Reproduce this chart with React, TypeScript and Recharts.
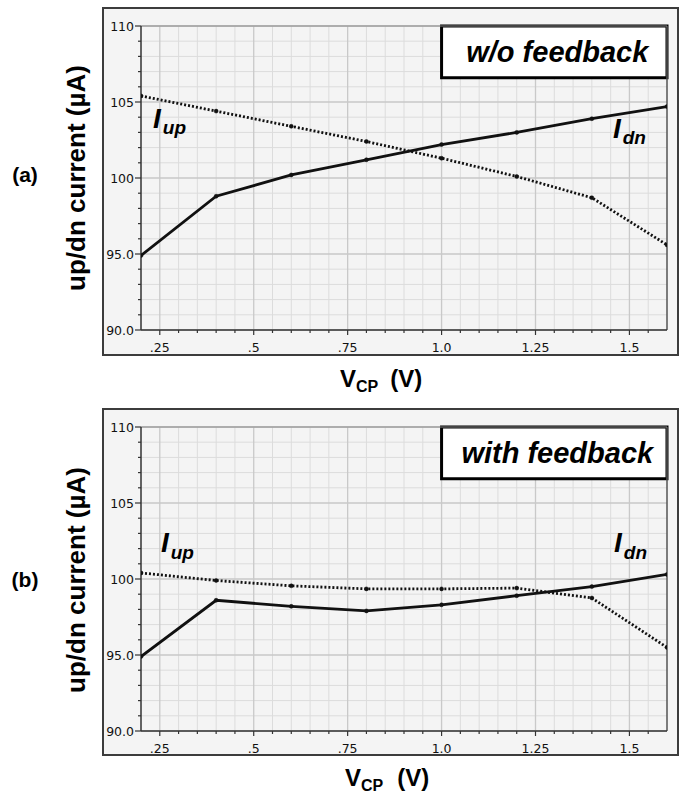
import React from "react";
import {
  LineChart,
  Line,
  XAxis,
  YAxis,
  CartesianGrid,
  ReferenceArea,
  ReferenceLine,
  ReferenceDot,
} from "recharts";

// V_CP sweep points (V)
const vcp = [0.2, 0.4, 0.6, 0.8, 1.0, 1.2, 1.4, 1.6];

// (a) without feedback, µA
const idnNoFeedback = [94.9, 98.8, 100.2, 101.2, 102.2, 103.0, 103.9, 104.7];
const iupNoFeedback = [105.4, 104.4, 103.4, 102.4, 101.3, 100.1, 98.7, 95.6];

// (b) with feedback, µA
const idnFeedback = [94.9, 98.6, 98.2, 97.9, 98.3, 98.9, 99.5, 100.3];
const iupFeedback = [100.4, 99.9, 99.55, 99.35, 99.35, 99.4, 98.75, 95.5];

// axis ticks
const majorX = [0.25, 0.5, 0.75, 1.0, 1.25, 1.5];
const majorXLabels = [".25", ".5", ".75", "1.0", "1.25", "1.5"];
const minorX = [
  0.3, 0.35, 0.4, 0.45, 0.55, 0.6, 0.65, 0.7, 0.8, 0.85, 0.9, 0.95, 1.05,
  1.1, 1.15, 1.2, 1.3, 1.35, 1.4, 1.45, 1.55,
];
const majorY = [90, 95, 100, 105, 110];
const majorYLabels = ["90.0", "95.0", "100", "105", "110"];
const minorY = [91, 92, 93, 94, 96, 97, 98, 99, 101, 102, 103, 104, 106, 107, 108, 109];

const SANS = "'Liberation Sans', Arial, Helvetica, sans-serif";
const TICK_FONT = "'DejaVu Sans', Verdana, sans-serif";

const XTick = (props: any) => {
  const { x, y, payload } = props;
  const i = majorX.indexOf(payload.value);
  const major = i >= 0;
  return (
    <g>
      <line x1={x} x2={x} y1={y} y2={y + (major ? 5 : 3)} stroke="#333" strokeWidth={1.2} />
      {major && (
        <text x={x} y={y + 22} textAnchor="middle" fontFamily={TICK_FONT} fontSize={12.5} fill="#111">
          {majorXLabels[i]}
        </text>
      )}
    </g>
  );
};

const YTick = (props: any) => {
  const { x, y, payload } = props;
  const i = majorY.indexOf(payload.value);
  const major = i >= 0;
  return (
    <g>
      <line x1={x - (major ? 6 : 3)} x2={x} y1={y} y2={y} stroke="#333" strokeWidth={1.2} />
      {major && (
        <text x={x - 7} y={y + 4.5} textAnchor="end" fontFamily={TICK_FONT} fontSize={12.5} fill="#111">
          {majorYLabels[i]}
        </text>
      )}
    </g>
  );
};

const CurrentLabel = ({ cx, cy, sub, shift }: any) => (
  <text x={cx} y={cy} fontFamily={SANS} fontWeight="bold" fontStyle="italic" fill="#000">
    <tspan fontSize={28}>I</tspan>
    <tspan fontSize={19} dx={2} dy={shift}>
      {sub}
    </tspan>
  </text>
);

interface PanelProps {
  top: number;
  height: number;
  idn: number[];
  iup: number[];
  boxText: string;
  upAt: [number, number];
  dnAt: [number, number];
  subShift: number;
}

function Panel({ top, height, idn, iup, boxText, upAt, dnAt, subShift }: PanelProps) {
  const chartData = vcp.map((v, i) => ({ v, idn: idn[i], iup: iup[i] }));
  return (
    <div style={{ position: "absolute", left: 0, top }}>
      <LineChart
        width={686}
        height={height}
        data={chartData}
        margin={{ top: 26, right: 19, bottom: height - 360, left: 91 }}
      >
        <CartesianGrid
          horizontalValues={minorY}
          verticalValues={minorX}
          stroke="#dcdcdc"
          strokeWidth={1}
        />
        <CartesianGrid
          horizontalValues={majorY}
          verticalValues={majorX}
          stroke="#c9c9c9"
          strokeWidth={1.3}
        />
        <XAxis
          type="number"
          dataKey="v"
          domain={[0.2, 1.6]}
          ticks={[...minorX, ...majorX]}
          interval={0}
          tickSize={0}
          tickMargin={0}
          tickLine={false}
          tick={(p: any) => <XTick {...p} />}
          axisLine={{ stroke: "#333", strokeWidth: 1.5 }}
          height={30}
          allowDataOverflow
        />
        <YAxis
          type="number"
          domain={[90, 110]}
          ticks={[...minorY, ...majorY]}
          interval={0}
          tickSize={0}
          tickMargin={0}
          tickLine={false}
          tick={(p: any) => <YTick {...p} />}
          axisLine={{ stroke: "#333", strokeWidth: 1.5 }}
          width={50}
          allowDataOverflow
        />
        <ReferenceLine x={1.6} stroke="#555" strokeWidth={1.5} />
        <ReferenceLine y={110} stroke="#888" strokeWidth={1.2} />
        <ReferenceArea
          x1={1.0}
          x2={1.6}
          y1={106.6}
          y2={110}
          fill="#fff"
          fillOpacity={1}
          stroke="#000"
          strokeWidth={3}
          label={{
            value: boxText,
            position: "center",
            fill: "#000",
            fontSize: 29,
            fontWeight: "bold",
            fontStyle: "italic",
            fontFamily: SANS,
            dx: 3,
          }}
        />
        <Line
          type="linear"
          dataKey="iup"
          stroke="#111"
          strokeWidth={2.8}
          strokeDasharray="2 2"
          dot={{ r: 2, fill: "#111", stroke: "#111", strokeWidth: 0.5, strokeDasharray: "0" }}
          isAnimationActive={false}
        />
        <Line
          type="linear"
          dataKey="idn"
          stroke="#111"
          strokeWidth={2.8}
          dot={{ r: 2, fill: "#111", stroke: "#111", strokeWidth: 0.5 }}
          isAnimationActive={false}
        />
        <ReferenceDot
          x={upAt[0]}
          y={upAt[1]}
          r={0}
          shape={(p: any) => <CurrentLabel cx={p.cx} cy={p.cy} sub="up" shift={subShift} />}
        />
        <ReferenceDot
          x={dnAt[0]}
          y={dnAt[1]}
          r={0}
          shape={(p: any) => <CurrentLabel cx={p.cx} cy={p.cy} sub="dn" shift={subShift} />}
        />
      </LineChart>
    </div>
  );
}

const frameStyle: React.CSSProperties = {
  position: "absolute",
  left: 102,
  width: 577,
  boxSizing: "border-box",
  border: "2px solid #3c3c3c",
  background: "#f4f4f4",
};

const axisTitle = (left: number, top: number, gap: number) => (
  <div
    style={{
      position: "absolute",
      left,
      top,
      fontFamily: SANS,
      fontWeight: "bold",
      fontSize: 24,
      lineHeight: "28px",
      whiteSpace: "nowrap",
      color: "#000",
    }}
  >
    V
    <span style={{ fontSize: 16, position: "relative", top: 5 }}>CP</span>
    <span style={{ marginLeft: gap }}>(V)</span>
  </div>
);

const yTitle = (centerY: number) => (
  <div
    style={{
      position: "absolute",
      left: 76 - 150,
      top: centerY - 15,
      width: 300,
      height: 30,
      lineHeight: "30px",
      textAlign: "center",
      transform: "rotate(-90deg)",
      fontFamily: SANS,
      fontWeight: "bold",
      fontSize: 26,
      whiteSpace: "nowrap",
      color: "#000",
    }}
  >
    up/dn current (µA)
  </div>
);

const panelTag = (text: string, centerY: number) => (
  <div
    style={{
      position: "absolute",
      left: 0,
      width: 50,
      top: centerY - 13,
      lineHeight: "26px",
      textAlign: "center",
      fontFamily: SANS,
      fontWeight: "bold",
      fontSize: 21,
      color: "#000",
    }}
  >
    {text}
  </div>
);

export default function App() {
  return (
    <div
      style={{
        position: "absolute",
        left: 0,
        top: 0,
        width: 686,
        height: 797,
        overflow: "hidden",
        background: "#fff",
      }}
    >
      <div style={{ ...frameStyle, top: 7, height: 349 }} />
      <div style={{ ...frameStyle, top: 408, height: 348 }} />

      <Panel
        top={0}
        height={400}
        idn={idnNoFeedback}
        iup={iupNoFeedback}
        boxText="w/o feedback"
        upAt={[0.232, 103.3]}
        dnAt={[1.456, 102.6]}
        subShift={6}
      />
      <Panel
        top={401}
        height={396}
        idn={idnFeedback}
        iup={iupFeedback}
        boxText="with feedback"
        upAt={[0.253, 101.75]}
        dnAt={[1.459, 101.75]}
        subShift={7}
      />

      {axisTitle(340, 365, 12)}
      {axisTitle(345, 764, 14)}
      {yTitle(178)}
      {yTitle(580)}
      {panelTag("(a)", 175)}
      {panelTag("(b)", 580)}
    </div>
  );
}
